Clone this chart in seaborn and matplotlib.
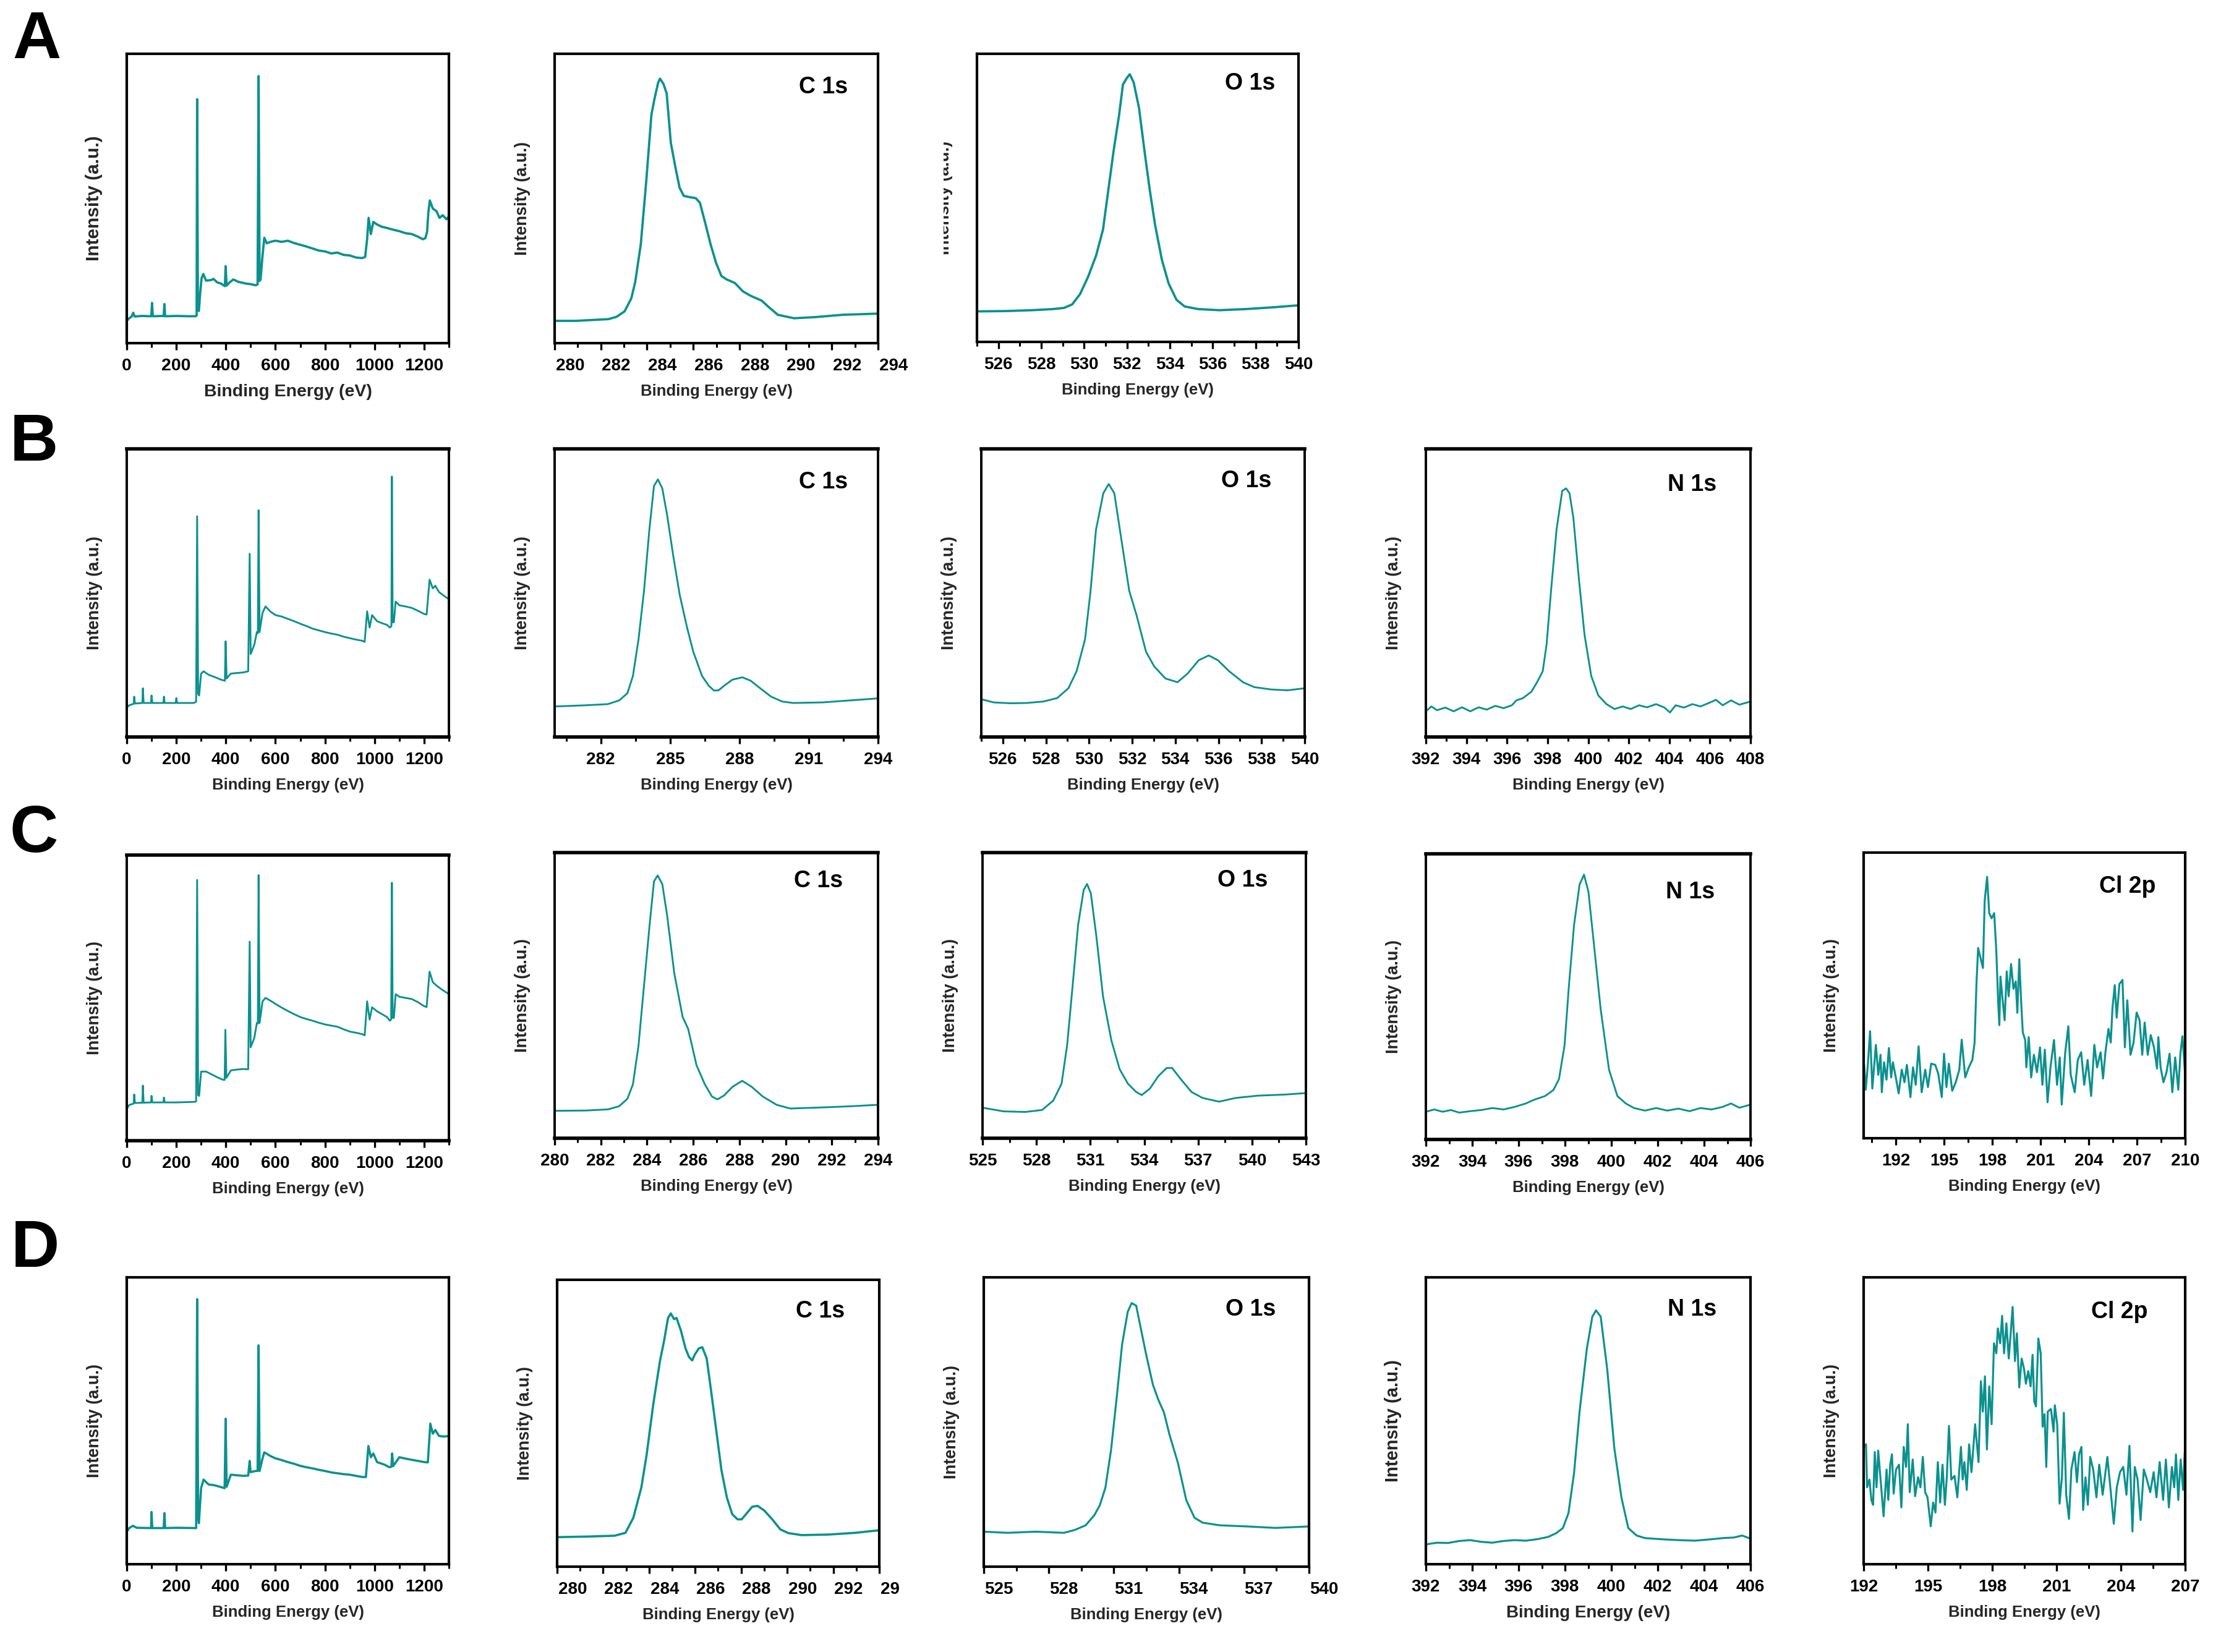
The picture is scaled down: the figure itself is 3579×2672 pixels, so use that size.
import matplotlib
matplotlib.use("Agg")
import matplotlib.pyplot as plt
import matplotlib.transforms as mtransforms
import seaborn as sns

# style: bold Arial-like text, plain white panels with a black frame
sns.set_theme(style="ticks")
plt.rcParams['font.family'] = ['Liberation Sans', 'DejaVu Sans']
plt.rcParams.update({
    'font.weight': 'bold',
    'axes.labelweight': 'bold',
    'axes.facecolor': 'white',
    'figure.facecolor': 'white',
    'axes.edgecolor': 'black',
})

# ---------------- data (intensity in a.u., 0-100) ----------------
# row A
A_survey_be = [0, 10, 20, 26, 32, 60, 99, 102, 105, 149, 152, 155, 200, 250, 278, 282, 284, 287, 291, 296, 302, 309,
               320, 340, 350, 365, 380, 396, 399, 403, 415, 430, 450, 480, 500, 520, 528, 532, 536, 540, 547, 555, 565,
               580, 600, 625, 650, 675, 700, 725, 750, 775, 800, 825, 850, 875, 900, 925, 950, 962, 970, 976, 985, 995,
               1010, 1030, 1050, 1075, 1100, 1125, 1150, 1175, 1195, 1205, 1212, 1217, 1223, 1235, 1250, 1262, 1275,
               1290, 1300]
A_survey_int = [7.7, 8.6, 9.2, 10.5, 9.2, 9.4, 9.3, 13.9, 9.3, 9.4, 13.5, 9.3, 9.4, 9.3, 9.3, 9.6, 84.3, 12.0, 11.1,
                17.0, 22.5, 23.9, 21.6, 21.8, 22.2, 21.0, 20.6, 19.7, 26.6, 19.9, 21.0, 22.0, 21.2, 20.6, 20.4, 20.0,
                20.3, 92.3, 21.5, 22.0, 29.4, 36.4, 34.5, 35.0, 35.4, 35.0, 35.4, 34.6, 34.0, 33.4, 32.7, 32.0, 31.7,
                31.0, 31.3, 30.5, 30.3, 29.6, 29.4, 29.8, 36.0, 43.3, 37.7, 41.9, 41.0, 40.2, 39.8, 39.2, 38.7, 38.0,
                37.7, 36.8, 35.9, 36.3, 38.5, 45.1, 49.3, 46.5, 45.6, 43.3, 44.2, 42.8, 43.8]

A_c1s_be = [280, 280.93, 281.86, 282.33, 282.68, 283.03, 283.32, 283.49, 283.73, 283.96, 284.19, 284.33, 284.48,
            284.56, 284.71, 284.85, 285.03, 285.24, 285.41, 285.59, 285.82, 286.11, 286.29, 286.52, 286.75, 286.99,
            287.22, 287.45, 287.8, 288.15, 288.5, 288.96, 289.25, 289.66, 290.13, 290.36, 291.29, 292.46, 294]
A_c1s_int = [7.7, 7.7, 8.1, 8.3, 9.1, 11.0, 15.5, 21.2, 34.2, 55.4, 79.0, 84.7, 90.0, 91.4, 89.6, 86.3, 69.2, 60.3,
             53.7, 50.9, 50.5, 50.1, 48.5, 41.5, 34.2, 27.7, 23.2, 22.0, 20.8, 17.9, 16.3, 14.7, 12.6, 9.8, 9.0, 8.6,
             9.0, 9.8, 10.2]

A_o1s_be = [525, 526.31, 527.56, 528.56, 529.06, 529.44, 529.81, 530.19, 530.56, 530.88, 531.13, 531.38, 531.63,
            531.81, 532.0, 532.13, 532.31, 532.56, 532.81, 533.06, 533.31, 533.63, 533.94, 534.31, 534.69, 535.31,
            536.31, 537.56, 538.81, 540]
A_o1s_int = [10.6, 10.7, 11.0, 11.4, 11.8, 13.0, 16.6, 22.7, 30.0, 39.0, 52.8, 66.6, 78.7, 89.3, 91.7, 92.9, 90.1,
             81.2, 66.6, 52.8, 40.6, 28.4, 20.3, 14.6, 12.3, 11.4, 11.0, 11.4, 12.0, 12.7]

# row B
B_survey_be = [0, 10, 28, 30, 33, 63, 65, 68, 98, 100, 103, 148, 150, 153, 198, 200, 203, 270, 280, 284, 288, 292,
               300, 310, 330, 355, 380, 396, 399, 403, 420, 445, 470, 490, 496, 500, 515, 525, 529, 532, 536, 548,
               560, 580, 600, 625, 650, 675, 700, 725, 750, 775, 800, 825, 850, 875, 900, 925, 950, 960, 970, 980,
               990, 1010, 1030, 1050, 1062, 1068, 1070, 1073, 1078, 1085, 1100, 1125, 1150, 1175, 1200, 1210, 1222,
               1235, 1245, 1260, 1280, 1300]
B_survey_int = [10.2, 11.0, 11.5, 14.0, 11.6, 11.8, 16.9, 11.8, 11.8, 14.4, 11.8, 11.8, 14.0, 11.8, 11.8, 13.5,
                11.8, 11.8, 12.2, 76.6, 15.0, 14.4, 22.0, 22.8, 21.6, 20.8, 19.9, 19.5, 33.2, 20.3, 22.0, 22.2, 22.4,
                22.8, 63.6, 28.8, 32.1, 36.4, 36.0, 78.7, 36.4, 43.1, 45.3, 43.5, 42.3, 41.8, 41.0, 40.2, 39.3, 38.5,
                37.6, 37.0, 36.4, 35.9, 35.5, 34.8, 34.3, 33.8, 33.4, 33.0, 43.6, 38.0, 42.3, 40.2, 39.5, 38.9, 38.0,
                38.5, 90.4, 39.8, 39.8, 47.0, 45.7, 45.3, 44.8, 43.8, 42.7, 42.5, 54.6, 51.6, 52.5, 50.3, 49.0, 47.8]

B_c1s_be = [280.04, 281.35, 282.3, 282.8, 283.15, 283.39, 283.63, 283.87, 284.1, 284.3, 284.47, 284.66, 284.87,
            285.14, 285.42, 285.73, 286.0, 286.38, 286.67, 286.9, 287.1, 287.34, 287.7, 288.13, 288.49, 288.9,
            289.37, 289.85, 290.33, 291.6, 292.8, 294]
B_c1s_int = [10.6, 11.0, 11.4, 12.7, 15.2, 21.2, 33.8, 50.8, 71.9, 87.1, 89.4, 86.3, 77.0, 62.6, 49.1, 38.1, 29.6,
             21.2, 17.8, 16.1, 16.2, 17.8, 19.9, 20.7, 19.5, 16.9, 14.0, 12.3, 11.8, 12.0, 12.7, 13.4]

B_o1s_be = [525, 525.57, 526.34, 527.1, 527.88, 528.52, 529.04, 529.42, 529.81, 530.07, 530.32, 530.66, 530.91,
            531.17, 531.48, 531.86, 532.2, 532.64, 533.02, 533.54, 534.1, 534.57, 535.08, 535.55, 535.98, 536.5,
            537.14, 537.66, 538.43, 539.2, 540]
B_o1s_int = [13.1, 12.0, 11.7, 11.8, 12.3, 13.5, 16.9, 22.8, 33.8, 50.8, 71.9, 84.6, 87.8, 84.6, 69.4, 50.8, 42.3,
             29.6, 24.5, 20.3, 19.0, 22.0, 26.6, 28.3, 26.6, 22.8, 19.0, 17.3, 16.5, 16.2, 16.9]

B_n1s_be = [392, 392.27, 392.55, 392.96, 393.37, 393.78, 394.19, 394.6, 395.0, 395.42, 395.83, 396.24, 396.46,
            396.79, 397.2, 397.48, 397.76, 397.95, 398.17, 398.44, 398.72, 398.91, 399.08, 399.27, 399.54, 399.82,
            400.15, 400.5, 400.9, 401.3, 401.7, 402.1, 402.5, 402.9, 403.35, 403.76, 404.03, 404.31, 404.72, 405.13,
            405.54, 405.95, 406.3, 406.63, 407.04, 407.45, 408]
B_n1s_int = [8.9, 10.6, 9.3, 10.2, 8.9, 10.3, 8.9, 10.3, 9.5, 10.8, 10.0, 11.0, 12.7, 13.5, 15.7, 19.0, 22.8, 32.1,
             50.8, 71.9, 85.4, 86.3, 84.6, 76.1, 55.0, 35.5, 21.2, 14.4, 11.4, 9.7, 10.6, 9.7, 11.0, 10.3, 11.4, 10.2,
             8.5, 11.0, 10.2, 11.4, 10.6, 11.8, 12.9, 11.0, 12.7, 11.2, 12.3]

# row C
C_survey_be = [0, 10, 28, 30, 33, 63, 65, 68, 98, 100, 103, 148, 150, 153, 200, 275, 280, 284, 288, 292, 300, 320,
               350, 370, 390, 395, 398, 402, 420, 445, 470, 490, 496, 500, 515, 525, 529, 532, 536, 548, 560, 580,
               600, 625, 650, 675, 700, 725, 750, 775, 800, 825, 850, 875, 900, 925, 950, 960, 970, 980, 990, 1010,
               1030, 1050, 1062, 1067, 1070, 1073, 1078, 1085, 1100, 1125, 1150, 1175, 1200, 1210, 1222, 1235, 1250,
               1270, 1300]
C_survey_int = [11.1, 12.5, 13.0, 16.2, 13.2, 13.3, 19.3, 13.3, 13.4, 15.7, 13.4, 13.4, 15.1, 13.4, 13.4, 13.6,
                13.8, 91.3, 16.0, 15.7, 24.2, 24.2, 22.9, 22.0, 21.3, 21.3, 38.8, 22.0, 24.6, 24.9, 25.1, 25.0, 69.7,
                32.7, 36.1, 41.2, 41.0, 93.0, 41.2, 48.8, 50.0, 49.0, 47.9, 46.6, 45.4, 44.3, 43.3, 42.6, 42.0, 41.3,
                40.7, 40.3, 39.9, 39.0, 38.2, 37.8, 37.3, 36.9, 48.8, 42.4, 46.7, 45.3, 44.3, 43.3, 42.0, 42.5, 90.3,
                43.0, 43.0, 51.3, 50.4, 50.0, 49.6, 48.5, 47.1, 46.8, 59.2, 55.5, 54.3, 53.0, 51.3]

C_c1s_be = [280, 281.36, 282.31, 282.79, 283.15, 283.39, 283.63, 283.87, 284.11, 284.3, 284.46, 284.66, 284.87,
            285.18, 285.54, 285.78, 286.14, 286.5, 286.81, 287.05, 287.34, 287.7, 288.12, 288.53, 289.01, 289.61,
            290.2, 291.65, 292.84, 294]
C_c1s_int = [9.6, 9.7, 10.1, 11.2, 13.8, 18.9, 32.4, 53.5, 74.6, 89.9, 92.0, 89.0, 78.0, 57.7, 42.5, 38.3, 25.6,
             18.9, 14.6, 13.6, 15.0, 18.0, 20.1, 18.0, 14.6, 11.7, 10.4, 10.8, 11.2, 11.7]

C_o1s_be = [525, 526.17, 527.4, 528.32, 528.94, 529.4, 529.71, 530.02, 530.32, 530.63, 530.82, 531.03, 531.34,
            531.71, 532.17, 532.63, 533.09, 533.55, 533.86, 534.32, 534.78, 535.25, 535.55, 536.02, 536.63, 537.25,
            538.17, 539.09, 540.32, 541.86, 543]
C_o1s_int = [10.7, 9.4, 9.2, 9.9, 13.2, 19.1, 32.6, 53.7, 74.7, 86.9, 89.0, 85.7, 70.5, 49.5, 34.3, 24.2, 19.1,
             16.2, 15.1, 17.4, 21.7, 24.6, 24.6, 20.8, 16.2, 14.1, 12.8, 14.1, 14.9, 15.3, 15.8]

C_n1s_be = [392, 392.36, 392.72, 393.08, 393.44, 393.91, 394.39, 394.87, 395.35, 395.83, 396.31, 396.67, 397.14,
            397.5, 397.74, 397.98, 398.17, 398.39, 398.63, 398.82, 399.01, 399.25, 399.54, 399.9, 400.26, 400.62,
            400.98, 401.45, 401.93, 402.41, 402.89, 403.37, 403.84, 404.32, 404.8, 405.16, 405.52, 406]
C_n1s_int = [9.7, 10.5, 9.7, 10.3, 9.4, 9.9, 10.3, 11.0, 10.5, 11.4, 12.6, 13.9, 15.2, 17.3, 21.1, 32.9, 53.9, 75.0,
             89.3, 92.7, 86.8, 68.2, 45.5, 24.4, 15.2, 12.6, 11.0, 10.1, 11.0, 10.1, 10.8, 9.9, 11.0, 10.5, 11.4, 12.6,
             11.1, 12.2]

C_cl2p_be = [190.03, 190.13, 190.25, 190.4, 190.54, 190.76, 190.91, 191.05, 191.13, 191.27, 191.42, 191.57, 191.71,
             191.82, 192.0, 192.18, 192.37, 192.54, 192.69, 192.91, 193.07, 193.24, 193.42, 193.61, 193.83, 194.0,
             194.2, 194.45, 194.64, 194.86, 195.0, 195.15, 195.3, 195.51, 195.73, 195.95, 196.1, 196.32, 196.54,
             196.76, 196.9, 197.02, 197.12, 197.27, 197.42, 197.53, 197.68, 197.81, 197.96, 198.12, 198.25, 198.37,
             198.44, 198.51, 198.66, 198.77, 198.9, 199.02, 199.17, 199.32, 199.46, 199.56, 199.68, 199.8, 199.9,
             200.05, 200.12, 200.27, 200.42, 200.59, 200.78, 200.97, 201.12, 201.27, 201.44, 201.62, 201.84, 202.03,
             202.2, 202.32, 202.54, 202.73, 202.88, 203.13, 203.32, 203.53, 203.72, 203.93, 204.15, 204.35, 204.52,
             204.74, 204.89, 205.04, 205.23, 205.37, 205.48, 205.62, 205.74, 205.91, 206.1, 206.25, 206.4, 206.6,
             206.79, 206.98, 207.16, 207.33, 207.48, 207.67, 207.86, 208.06, 208.25, 208.33, 208.47, 208.65, 208.84,
             209.03, 209.2, 209.38, 209.57, 209.71, 209.83, 210]
C_cl2p_int = [25.7, 17.0, 24.9, 37.5, 17.4, 32.7, 22.2, 29.2, 16.1, 26.6, 20.5, 31.6, 21.3, 26.6, 21.3, 15.7, 24.0,
              19.6, 25.7, 14.4, 24.8, 18.7, 32.2, 16.1, 24.0, 17.9, 26.1, 25.7, 22.6, 14.4, 29.6, 17.9, 26.1, 16.6,
              19.6, 24.0, 34.5, 21.3, 24.8, 27.4, 33.4, 54.4, 66.6, 63.1, 59.6, 83.2, 91.5, 78.8, 77.0, 78.8, 65.8,
              47.5, 39.6, 56.6, 47.5, 41.3, 58.4, 49.7, 61.0, 52.3, 54.9, 43.9, 62.7, 47.5, 37.0, 34.4, 24.8, 35.4,
              21.3, 29.2, 23.1, 31.8, 18.7, 31.0, 12.6, 24.8, 34.4, 18.7, 28.3, 11.8, 30.1, 39.2, 22.2, 16.1, 27.4,
              30.1, 18.7, 27.4, 14.8, 32.7, 24.8, 30.1, 20.9, 30.1, 38.3, 33.5, 45.7, 53.6, 42.2, 54.0, 55.4, 31.8,
              48.3, 29.2, 33.5, 44.0, 41.4, 29.2, 40.5, 29.2, 36.1, 31.8, 24.4, 35.4, 24.8, 19.6, 23.1, 29.6, 16.1,
              28.3, 17.0, 30.1, 35.7, 22.2]

# row D
D_survey_be = [0, 10, 25, 40, 98, 100, 103, 149, 152, 155, 200, 280, 284, 288, 291, 300, 310, 330, 355, 380, 395,
               399, 403, 420, 445, 470, 490, 496, 500, 520, 528, 532, 536, 548, 555, 580, 600, 625, 650, 675, 700,
               725, 750, 775, 800, 825, 850, 875, 900, 925, 950, 965, 975, 985, 995, 1010, 1040, 1060, 1068, 1071,
               1075, 1100, 1125, 1150, 1175, 1200, 1215, 1225, 1235, 1245, 1260, 1280, 1300]
D_survey_int = [11.3, 12.6, 13.4, 12.7, 12.6, 18.2, 12.6, 12.6, 17.8, 12.6, 12.7, 12.6, 92.4, 16.0, 14.3, 26.5,
                29.5, 27.8, 27.5, 26.9, 26.5, 50.7, 27.0, 31.2, 31.0, 30.8, 30.9, 36.0, 32.1, 32.5, 32.5, 76.3, 32.5,
                36.9, 39.0, 37.7, 36.9, 36.3, 35.6, 35.0, 34.3, 33.8, 33.4, 32.9, 32.5, 32.0, 31.7, 31.4, 31.2, 30.8,
                30.4, 30.4, 41.2, 37.3, 38.6, 35.6, 34.7, 33.8, 34.0, 38.6, 34.2, 37.3, 36.8, 36.4, 36.0, 35.6, 35.5,
                49.0, 45.5, 46.8, 44.7, 44.5, 44.7]

D_c1s_be = [280, 281.34, 282.5, 282.97, 283.31, 283.66, 283.89, 284.18, 284.47, 284.65, 284.82, 284.94, 285.08,
            285.19, 285.38, 285.58, 285.73, 285.87, 285.98, 286.16, 286.31, 286.5, 286.68, 286.91, 287.14, 287.38,
            287.61, 287.84, 288.02, 288.25, 288.48, 288.71, 289.0, 289.35, 289.7, 290.05, 290.63, 291.79, 292.95, 294]
D_c1s_int = [10.3, 10.5, 10.8, 11.8, 17.0, 27.6, 39.0, 56.7, 71.7, 78.8, 86.7, 88.3, 86.3, 86.7, 82.3, 76.1, 73.1,
             71.9, 73.9, 76.1, 76.5, 72.6, 62.0, 47.9, 33.7, 24.0, 18.3, 16.5, 16.5, 18.7, 20.9, 21.2, 19.6, 16.5,
             13.0, 11.7, 11.0, 11.2, 11.8, 12.7]

D_o1s_be = [525, 526.1, 527.4, 528.7, 529.2, 529.7, 530.1, 530.35, 530.61, 530.87, 531.12, 531.38, 531.64, 531.82,
            532.03, 532.28, 532.49, 532.8, 533.05, 533.31, 533.57, 533.95, 534.34, 534.72, 535.1, 535.88, 537.17,
            538.45, 540]
D_o1s_int = [12.1, 11.7, 12.1, 11.7, 12.7, 14.3, 17.8, 21.2, 27.3, 40.3, 57.7, 76.8, 88.1, 91.1, 90.2, 81.0, 73.3,
             62.9, 57.7, 53.3, 45.5, 36.0, 23.0, 16.9, 15.2, 14.3, 13.9, 13.4, 13.9]

D_n1s_be = [392, 392.48, 392.96, 393.44, 393.91, 394.39, 394.87, 395.35, 395.83, 396.31, 396.79, 397.27, 397.62,
            397.91, 398.15, 398.39, 398.63, 398.94, 399.18, 399.34, 399.54, 399.82, 400.13, 400.44, 400.73, 401.09,
            401.45, 402.17, 402.89, 403.6, 404.32, 404.8, 405.28, 405.64, 406]
D_n1s_int = [6.9, 7.5, 7.4, 8.1, 8.4, 7.8, 7.5, 8.1, 8.4, 8.2, 8.7, 9.5, 10.8, 12.6, 17.8, 31.7, 53.3, 75.0, 86.3,
             88.5, 86.3, 68.1, 40.3, 23.0, 12.6, 10.0, 9.1, 8.7, 8.4, 8.2, 8.7, 9.1, 9.3, 10.0, 8.9]

D_cl2p_be = [192.03, 192.11, 192.16, 192.27, 192.36, 192.44, 192.52, 192.6, 192.68, 192.8, 192.93, 193.07, 193.15,
             193.24, 193.32, 193.4, 193.51, 193.65, 193.76, 193.87, 193.98, 194.06, 194.15, 194.29, 194.4, 194.54,
             194.65, 194.76, 194.87, 194.98, 195.13, 195.24, 195.35, 195.46, 195.57, 195.68, 195.79, 195.88, 195.98,
             196.09, 196.24, 196.37, 196.54, 196.62, 196.7, 196.81, 196.92, 197.03, 197.12, 197.2, 197.36, 197.47,
             197.56, 197.66, 197.75, 197.86, 197.97, 198.08, 198.19, 198.26, 198.37, 198.46, 198.55, 198.66, 198.77,
             198.86, 198.95, 199.06, 199.15, 199.26, 199.37, 199.48, 199.57, 199.68, 199.79, 199.88, 199.96, 200.04,
             200.15, 200.26, 200.35, 200.44, 200.52, 200.59, 200.74, 200.86, 200.92, 201.03, 201.14, 201.25, 201.34,
             201.45, 201.58, 201.69, 201.84, 201.95, 202.05, 202.16, 202.24, 202.35, 202.46, 202.57, 202.71, 202.86,
             202.99, 203.15, 203.37, 203.52, 203.67, 203.81, 203.96, 204.11, 204.26, 204.4, 204.54, 204.65, 204.78,
             204.92, 205.07, 205.2, 205.37, 205.53, 205.66, 205.81, 205.97, 206.1, 206.24, 206.38, 206.49, 206.57,
             206.68, 206.79, 206.9, 206.98, 207]
D_cl2p_int = [40.9, 41.8, 26.8, 29.5, 22.4, 20.7, 39.1, 26.8, 39.6, 28.6, 16.7, 33.0, 22.4, 34.7, 38.3, 24.6, 33.0,
              34.7, 19.8, 40.9, 33.9, 48.8, 25.1, 36.5, 23.7, 30.3, 26.8, 37.4, 25.1, 23.3, 13.2, 21.5, 18.0, 35.6,
              21.5, 34.7, 20.7, 30.3, 48.2, 29.5, 30.8, 23.3, 40.9, 29.5, 35.6, 25.9, 41.8, 32.1, 40.9, 48.8, 35.6,
              63.8, 53.2, 65.5, 40.0, 62.0, 48.8, 77.0, 73.5, 82.2, 77.0, 86.6, 73.5, 84.0, 71.7, 80.5, 89.7, 70.8,
              80.5, 61.6, 71.7, 68.2, 62.9, 67.3, 62.0, 73.0, 56.7, 55.0, 78.7, 73.5, 47.9, 52.3, 33.9, 53.2, 54.1,
              46.2, 55.4, 48.8, 21.1, 30.3, 52.8, 24.2, 15.8, 33.0, 39.1, 28.6, 38.3, 40.9, 18.9, 30.3, 20.7, 37.4,
              33.0, 23.3, 34.7, 24.2, 37.4, 25.9, 14.1, 26.8, 32.1, 33.9, 24.2, 41.3, 11.4, 33.9, 29.5, 15.4, 33.0,
              29.9, 25.1, 32.1, 23.3, 35.6, 22.4, 36.5, 19.8, 33.9, 26.8, 38.3, 22.4, 36.5, 25.9, 39.1, 25.1]

# tick values
survey_major = [0, 200, 400, 600, 800, 1000, 1200]
survey_minor = [100, 300, 500, 700, 900, 1100, 1300]
c1s_major_2 = [280, 282, 284, 286, 288, 290, 292, 294]
c1s_minor_2 = [281, 283, 285, 287, 289, 291, 293]
c1s_major_3 = [282, 285, 288, 291, 294]
c1s_minor_3 = [280.5, 283.5, 286.5, 289.5, 292.5]
o1s_major_2 = [526, 528, 530, 532, 534, 536, 538, 540]
o1s_minor_2 = [525, 527, 529, 531, 533, 535, 537, 539]
o1s_major_3 = [525, 528, 531, 534, 537, 540, 543]
o1s_minor_3 = [526.5, 529.5, 532.5, 535.5, 538.5, 541.5]
n1s_major_408 = [392, 394, 396, 398, 400, 402, 404, 406, 408]
n1s_minor_408 = [393, 395, 397, 399, 401, 403, 405, 407]
n1s_major_406 = [392, 394, 396, 398, 400, 402, 404, 406]
n1s_minor_406 = [393, 395, 397, 399, 401, 403, 405]
cl_major_C = [192, 195, 198, 201, 204, 207, 210]
cl_minor_C = [190.5, 193.5, 196.5, 199.5, 202.5, 205.5, 208.5]
cl_major_D = [192, 195, 198, 201, 204, 207]
cl_minor_D = [193.5, 196.5, 199.5, 202.5, 205.5]

# ---------------- figure ----------------
W, H, DPI = 3580, 2672, 100
fig = plt.figure(figsize=(W / DPI, H / DPI), dpi=DPI)
TEAL = '#0b918e'


def panel(box, be, inten, xlim, major, minor, title=None, tpos=(0.82, 0.885), lw=2.0,
          frame=(3.0, 3.0), xl_size=18.5, yl_size=19.5, tick_size=20, label_shift=0):
    left, top, right, bottom = box
    ax = fig.add_axes([left / W, 1 - bottom / H, (right - left) / W, (bottom - top) / H])
    sns.lineplot(x=be, y=inten, ax=ax, color=TEAL, linewidth=lw, estimator=None, sort=False)
    ax.set_xlim(*xlim)
    ax.set_ylim(0, 100)
    ax.set_xticks(major)
    ax.set_xticks(minor, minor=True)
    ax.set_xticklabels([str(v) for v in major])
    ax.set_yticks([])
    ax.tick_params(axis='x', which='major', direction='out', length=8, width=2.4,
                   labelsize=tick_size, pad=9, color='black', labelcolor='black')
    ax.tick_params(axis='x', which='minor', direction='out', length=5, width=2.2, color='black')
    for side in ['left', 'right']:
        ax.spines[side].set_linewidth(frame[0])
        ax.spines[side].set_color('black')
    for side in ['top', 'bottom']:
        ax.spines[side].set_linewidth(frame[1])
        ax.spines[side].set_color('black')
    ax.set_xlabel('Binding Energy (eV)', fontsize=xl_size, fontweight='bold', labelpad=12)
    ax.set_ylabel('Intensity (a.u.)', fontsize=yl_size, fontweight='bold', labelpad=28)
    if title:
        ax.text(tpos[0], tpos[1], title, transform=ax.transAxes, ha='center', va='center',
                fontsize=27, fontweight='bold', color='black')
    if label_shift:
        shift = mtransforms.ScaledTranslation(label_shift / DPI, 0, fig.dpi_scale_trans)
        for lbl in ax.get_xticklabels():
            lbl.set_transform(lbl.get_transform() + shift)
    ax.legend_ = None
    return ax


# row A
a1 = panel((205, 87, 726, 555), A_survey_be, A_survey_int, (0, 1300), survey_major, survey_minor,
           lw=2.7, xl_size=20.5, yl_size=21.5, tick_size=20.5)
a2 = panel((897, 87, 1420, 555), A_c1s_be, A_c1s_int, (280, 294), c1s_major_2, c1s_minor_2,
           title='C 1s', tpos=(0.83, 0.884), lw=2.7, label_shift=25)
a3 = panel((1580, 87, 2100, 553), A_o1s_be, A_o1s_int, (525, 540), o1s_major_2, o1s_minor_2,
           title='O 1s', tpos=(0.85, 0.897), lw=2.7)

# row B
b1 = panel((205, 726, 726, 1192), B_survey_be, B_survey_int, (0, 1300), survey_major, survey_minor,
           lw=2.1, frame=(2.8, 4.0))
b2 = panel((897, 726, 1420, 1192), B_c1s_be, B_c1s_int, (280, 294), c1s_major_3, c1s_minor_3,
           title='C 1s', tpos=(0.83, 0.884), lw=2.1, frame=(2.8, 4.0))
b3 = panel((1587, 726, 2110, 1192), B_o1s_be, B_o1s_int, (525, 540), o1s_major_2, o1s_minor_2,
           title='O 1s', tpos=(0.82, 0.888), lw=2.1, frame=(2.8, 4.0))
b4 = panel((2306, 726, 2831, 1192), B_n1s_be, B_n1s_int, (392, 408), n1s_major_408, n1s_minor_408,
           title='N 1s', tpos=(0.82, 0.876), lw=2.1, frame=(2.8, 4.0))

# row C
c1 = panel((205, 1383, 726, 1845), C_survey_be, C_survey_int, (0, 1300), survey_major, survey_minor,
           lw=2.1, frame=(2.8, 4.0))
c2 = panel((897, 1379, 1420, 1841), C_c1s_be, C_c1s_int, (280, 294), c1s_major_2, c1s_minor_2,
           title='C 1s', tpos=(0.815, 0.9), lw=2.1, frame=(2.8, 4.0))
c3 = panel((1589, 1379, 2112, 1841), C_o1s_be, C_o1s_int, (525, 543), o1s_major_3, o1s_minor_3,
           title='O 1s', tpos=(0.805, 0.903), lw=2.1, frame=(2.8, 4.0))
c4 = panel((2306, 1381, 2831, 1843), C_n1s_be, C_n1s_int, (392, 406), n1s_major_406, n1s_minor_406,
           title='N 1s', tpos=(0.815, 0.866), lw=2.1, frame=(2.8, 4.0))
c5 = panel((3014, 1379, 3534, 1841), C_cl2p_be, C_cl2p_int, (190, 210), cl_major_C, cl_minor_C,
           title='Cl 2p', tpos=(0.82, 0.882), lw=2.3)

# row D
d1 = panel((205, 2066, 726, 2530), D_survey_be, D_survey_int, (0, 1300), survey_major, survey_minor,
           lw=2.6)
d2 = panel((901, 2070, 1422, 2534), D_c1s_be, D_c1s_int, (280, 294), c1s_major_2, c1s_minor_2,
           title='C 1s', tpos=(0.816, 0.89), lw=2.6, label_shift=25)
d3 = panel((1591, 2066, 2117, 2534), D_o1s_be, D_o1s_int, (525, 540), o1s_major_3[:-1], o1s_minor_3[:-1],
           title='O 1s', tpos=(0.82, 0.889), lw=2.3, label_shift=24)
d4 = panel((2306, 2066, 2831, 2530), D_n1s_be, D_n1s_int, (392, 406), n1s_major_406, n1s_minor_406,
           title='N 1s', tpos=(0.82, 0.889), lw=2.3, yl_size=21, xl_size=20)
d5 = panel((3014, 2066, 3534, 2530), D_cl2p_be, D_cl2p_int, (192, 207), cl_major_D, cl_minor_D,
           title='Cl 2p', tpos=(0.795, 0.88), lw=2.3)

# the O 1s panel in row A only shows a sliver of its axis title, and the last C 1s label in row D is cut
fig.canvas.draw()
a3.yaxis.label.set_clip_box(mtransforms.Bbox.from_extents(1526, 0, W, H))
a3.yaxis.label.set_clip_on(True)
last = d2.get_xticklabels()[-1]
last.set_clip_box(mtransforms.Bbox.from_extents(0, 0, 1454, H))
last.set_clip_on(True)

# panel letters
for letter, (px, py) in zip(['A', 'B', 'C', 'D'], [(59, 66), (55, 717), (55, 1350), (57, 2021)]):
    fig.text(px / W, 1 - py / H, letter, ha='center', va='center', fontsize=78, fontweight='bold',
             color='black')

fig.savefig('out.png', dpi=DPI, facecolor='white')
